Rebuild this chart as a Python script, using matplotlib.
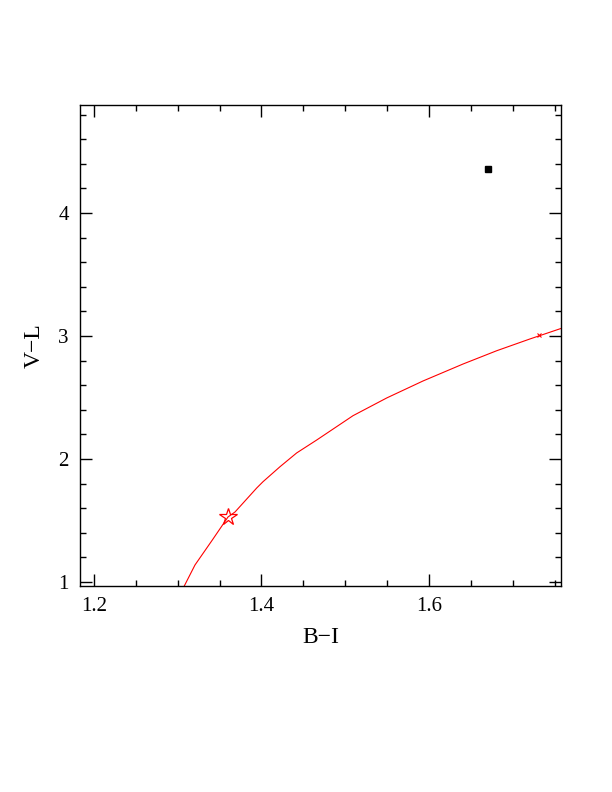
import matplotlib
matplotlib.use('Agg')
import matplotlib.pyplot as plt
from matplotlib.ticker import MultipleLocator

# model track (B-I, V-L)
track_bi = [1.3078, 1.3206, 1.3413, 1.360, 1.3684, 1.3943, 1.4018, 1.4221,
            1.4420, 1.4659, 1.5093, 1.5495, 1.5928, 1.6406, 1.6808, 1.7206, 1.7584]
track_vl = [0.967, 1.138, 1.341, 1.528, 1.569, 1.764, 1.815, 1.937,
            2.049, 2.154, 2.352, 2.496, 2.634, 2.772, 2.880, 2.976, 3.063]

# observed point and markers
obs_bi, obs_vl = 1.670, 4.358
star_bi, star_vl = 1.360, 1.528
cross_bi, cross_vl = 1.7313, 3.008

plt.rcParams['font.family'] = ['Liberation Serif', 'DejaVu Serif']

fig = plt.figure(figsize=(6.12, 7.92), dpi=100)
ax = fig.add_axes([0.1307, 0.2601, 0.786, 0.6073])

ax.plot(track_bi, track_vl, color='red', lw=0.8)
ax.plot(star_bi, star_vl, marker='*', ms=13, mfc='none', mec='red', mew=0.9, ls='none')
ax.plot(cross_bi, cross_vl, marker='x', ms=3, color='red', mew=0.8, ls='none')
ax.plot(obs_bi, obs_vl, marker='s', ms=5, color='black', ls='none')

ax.set_xlim(1.1833, 1.7576)
ax.set_ylim(0.967, 4.878)

ax.xaxis.set_major_locator(MultipleLocator(0.2))
ax.xaxis.set_minor_locator(MultipleLocator(0.05))
ax.yaxis.set_major_locator(MultipleLocator(1))
ax.yaxis.set_minor_locator(MultipleLocator(0.2))
ax.xaxis.set_major_formatter(plt.FuncFormatter(lambda v, p: '%.1f' % v))
ax.yaxis.set_major_formatter(plt.FuncFormatter(lambda v, p: '%d' % round(v)))

ax.tick_params(which='both', direction='in', top=True, right=True, width=1, labelsize=15)
ax.tick_params(which='major', length=8.8, pad=8)
ax.tick_params(which='minor', length=4.4)
for s in ax.spines.values():
    s.set_linewidth(1)

ax.set_xlabel('B\u2212I', fontsize=17, labelpad=8)
ax.set_ylabel('V\u2212L', fontsize=17, labelpad=10)

fig.savefig('out.png', dpi=100)
